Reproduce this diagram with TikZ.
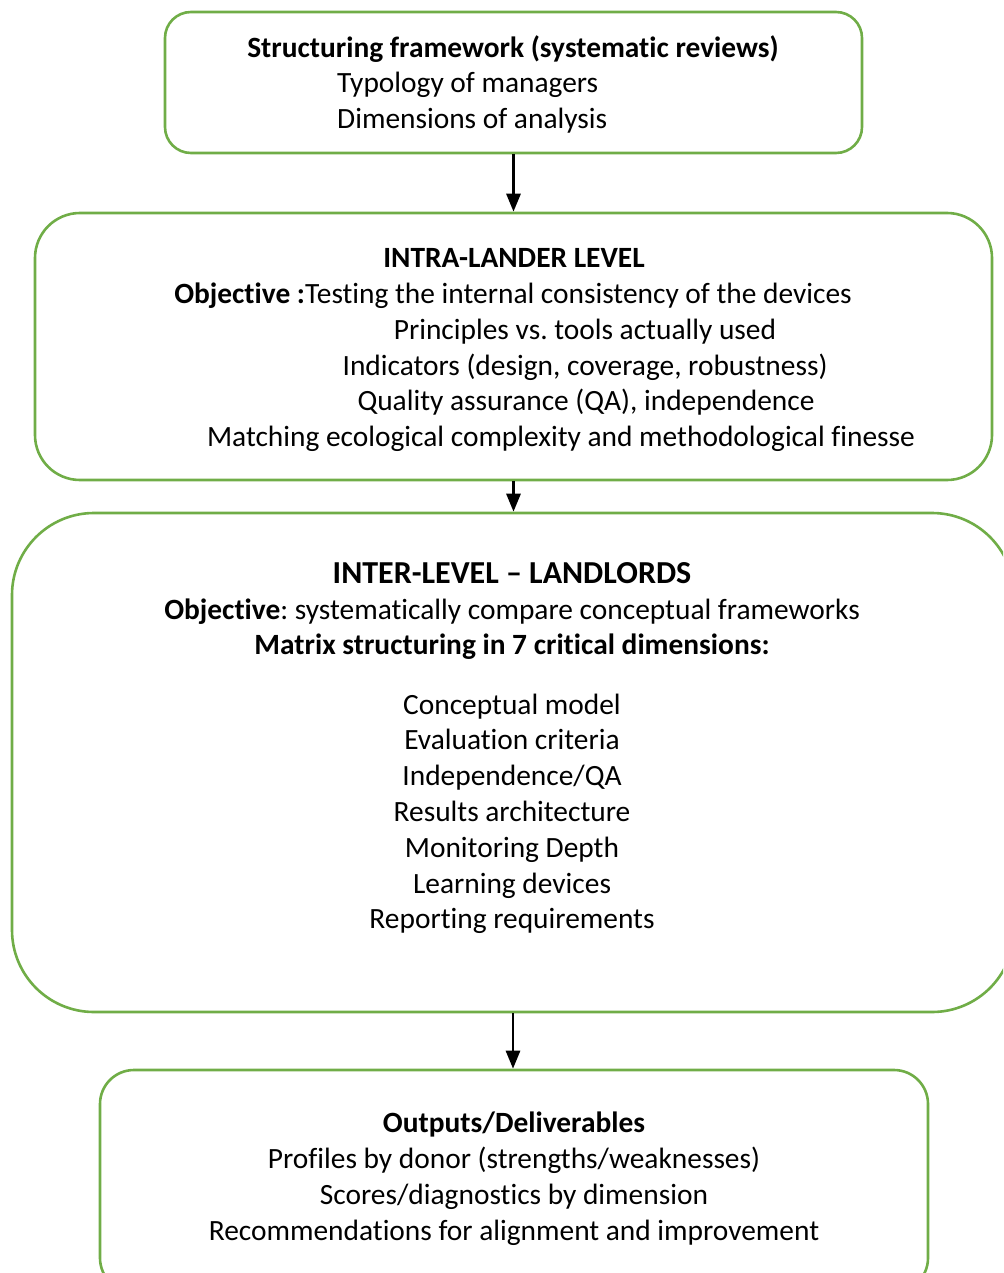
\documentclass[tikz,border=0pt]{standalone}
\usepackage{fontspec}
\setmainfont[Ligatures={NoCommon}]{Carlito}
\usetikzlibrary{arrows.meta,
positioning}
\definecolor{boxgreen}{RGB}{112,173,71}
\frenchspacing

\begin{document}
\begin{tikzpicture} [x=1pt, y=-1pt,
    >={Triangle[length=18pt, width=14pt]},
    every node/.style={font=\fontsize{29.4}{36}\selectfont, inner sep=0pt},
    main node/.style={rectangle, draw=boxgreen, line width=2.6pt, fill=none},
    flow/.style={->, line width=2.8pt, black},
    txt/.style={anchor=base},
    head/.style={anchor=base, font=\fontsize{29.4}{36}\selectfont\bfseries}]

  \useasboundingbox (0,0) rectangle (1003,1273);
  \clip (0,0) rectangle (1003,1273);

  % boxes
  \node [main node, rounded corners=26pt,
    minimum width=697pt, minimum height=141pt] (frame) at (513.5,82.5) {};

  \node [main node, rounded corners=45pt,
    minimum width=957pt, minimum height=267pt] (intra) at (513.5,346.5) {};

  \node [main node, rounded corners=82pt,
    minimum width=1002pt, minimum height=499pt] (inter) at (513,762.5) {};

  \node [main node, rounded corners=34pt,
    minimum width=828pt, minimum height=222pt] (outputs) at (514,1181) {};

  % structuring framework
  \node [head] (frame_t) at (513,58) {Structuring framework (systematic reviews)};
  \node [txt, anchor=base west] (typo) at (337,93) {Typology of managers};
  \node [txt, anchor=base west] (dims) at (337,129) {Dimensions of analysis};

  % intra level
  \node [head] (intra_t) at (514,267) {INTRA-LANDER LEVEL};
  \node [txt] (intra_obj) at (513,303) {\textbf{Objective :}Testing the internal consistency of the devices};
  \node [txt] (princ) at (585,339) {Principles vs. tools actually used};
  \node [txt] (indic) at (585,375) {Indicators (design, coverage, robustness)};
  \node [txt] (qa) at (586,410) {Quality assurance (QA), independence};
  \node [txt] (match) at (561,446) {Matching ecological complexity and methodological finesse};

  % inter level
  \node [head, font=\fontsize{32}{38}\selectfont\bfseries] (inter_t) at (512,583) {INTER-LEVEL -- LANDLORDS};
  \node [txt] (inter_obj) at (512,619) {\textbf{Objective}: systematically compare conceptual frameworks};
  \node [head] (matrix_t) at (512,654) {Matrix structuring in 7 critical dimensions:};

  \foreach \lbl [count=\i] in {Conceptual model, Evaluation criteria,
      Independence/QA, Results architecture, Monitoring Depth,
      Learning devices, Reporting requirements}{
      \node [txt] (dim\i) at (512, 714 + 35.8 * \i - 35.8) {\lbl};
    }

  % outputs
  \node [head] (out_t) at (514,1132) {Outputs/Deliverables};
  \node [txt] (prof) at (514,1168) {Profiles by donor (strengths/weaknesses)};
  \node [txt] (scores) at (514,1204) {Scores/diagnostics by dimension};
  \node [txt] (recs) at (514,1240) {Recommendations for alignment and improvement};

  % arrows
  \draw [flow] (frame.south) -- (frame.south |- intra.north);
  \draw [flow] (intra.south) -- (intra.south |- inter.north);
  \draw [flow] (inter.south) -- (inter.south |- outputs.north);

\end{tikzpicture}
\end{document}
